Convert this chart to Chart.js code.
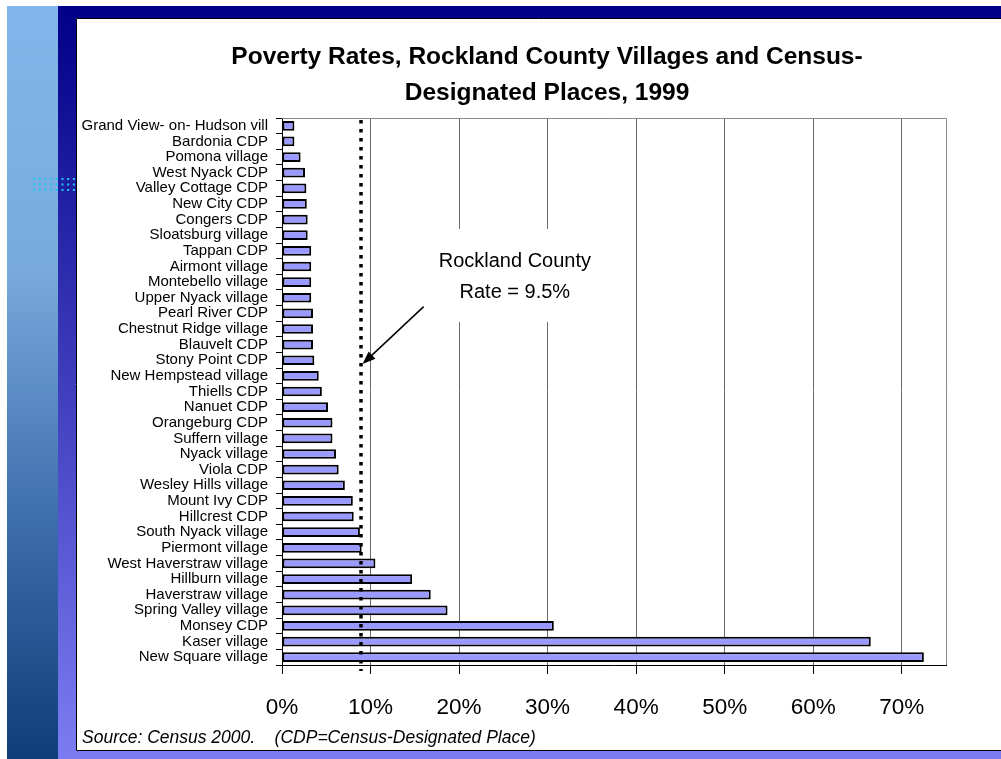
<!DOCTYPE html>
<html>
<head>
<meta charset="utf-8">
<script src="https://cdn.jsdelivr.net/npm/chart.js@4.4.1/dist/chart.umd.min.js"></script>
<style>
  html, body { margin: 0; padding: 0; background: #fff; }
  canvas { display: block; }
</style>
</head>
<body>
<canvas id="povertyCanvas" width="1001" height="759"></canvas>
<script>

// places, top to bottom as in the chart
const places = [
    "Grand View- on- Hudson vill", "Bardonia CDP", "Pomona village", "West Nyack CDP",
    "Valley Cottage CDP", "New City CDP", "Congers CDP", "Sloatsburg village",
    "Tappan CDP", "Airmont village", "Montebello village", "Upper Nyack village",
    "Pearl River CDP", "Chestnut Ridge village", "Blauvelt CDP", "Stony Point CDP",
    "New Hempstead village", "Thiells CDP", "Nanuet CDP", "Orangeburg CDP",
    "Suffern village", "Nyack village", "Viola CDP", "Wesley Hills village",
    "Mount Ivy CDP", "Hillcrest CDP", "South Nyack village", "Piermont village",
    "West Haverstraw village", "Hillburn village", "Haverstraw village", "Spring Valley village",
    "Monsey CDP", "Kaser village", "New Square village"
];

// poverty rate in percent
const povertyRates = [
    1.4, 1.4, 2.1, 2.6,
    2.75, 2.8, 2.9, 2.9,
    3.3, 3.3, 3.3, 3.3,
    3.5, 3.5, 3.5, 3.65,
    4.15, 4.5, 5.2, 5.7,
    5.7, 6.1, 6.4, 7.1,
    8.0, 8.1, 8.8, 9.0,
    10.55, 14.7, 16.8, 18.7,
    30.7, 66.5, 72.5
];

const xTickValues = [0, 10, 20, 30, 40, 50, 60, 70];
const countyLine = 8.9; // where the dotted county line sits in the picture
const countyLabel = ["Rockland County", "Rate = 9.5%"];

const titleLines = ["Poverty Rates, Rockland County Villages and Census-", "Designated Places, 1999"];
const sourceNote = "Source: Census 2000.    (CDP=Census-Designated Place)";

const FONT = '"Liberation Sans", Arial, sans-serif';

// slide frame behind the chart
const slidePlugin = {
    id: 'slide',
    beforeDraw(chart) {
        const ctx = chart.ctx;
        const W = chart.width, H = chart.height;
        ctx.save();
        ctx.fillStyle = '#fff';
        ctx.fillRect(0, 0, W, H);

        let g = ctx.createLinearGradient(0, 6, 0, H);
        g.addColorStop(0, '#82b6ea');
        g.addColorStop(0.35, '#78aadc');
        g.addColorStop(0.7, '#3a6aaa');
        g.addColorStop(1, '#0f3d78');
        ctx.fillStyle = g;
        ctx.fillRect(7, 6, 51, H - 6);

        g = ctx.createLinearGradient(0, 6, 0, H);
        g.addColorStop(0, '#000088');
        g.addColorStop(1, '#7c7cf2');
        ctx.fillStyle = g;
        ctx.fillRect(58, 6, W - 58, H - 6);

        // little dot pattern
        ctx.fillStyle = '#22c8f0';
        for (let r = 0; r < 3; r++) {
            for (let c = 0; c < 8; c++) {
                ctx.fillRect(33 + c * 5.7, 178 + r * 5.5, 2, 2);
            }
        }

        ctx.fillStyle = '#fff';
        ctx.fillRect(76, 18, W - 76, 732);
        ctx.strokeStyle = '#000';
        ctx.lineWidth = 1;
        ctx.beginPath();
        ctx.moveTo(W, 18.5);
        ctx.lineTo(76.5, 18.5);
        ctx.lineTo(76.5, 750.5);
        ctx.lineTo(W, 750.5);
        ctx.stroke();

        // title
        ctx.fillStyle = '#000';
        ctx.font = 'bold 24.5px ' + FONT;
        ctx.textAlign = 'center';
        ctx.textBaseline = 'middle';
        ctx.fillText(titleLines[0], 547, 57);
        ctx.fillText(titleLines[1], 547, 93);
        ctx.restore();
    }
};

const overlayPlugin = {
    id: 'overlay',
    beforeDatasetsDraw(chart) {
        const ctx = chart.ctx, a = chart.chartArea;
        const x = chart.scales.x, y = chart.scales.y;
        ctx.save();
        // box behind the county label hides the grid
        const bx0 = x.getPixelForValue(17), bx1 = x.getPixelForValue(36);
        const by0 = y.getPixelForValue(6.6), by1 = y.getPixelForValue(12.55);
        ctx.fillStyle = '#fff';
        ctx.fillRect(bx0, by0, bx1 - bx0, by1 - by0);
        // plot border top/right
        ctx.strokeStyle = '#888';
        ctx.lineWidth = 1;
        ctx.beginPath();
        ctx.moveTo(a.left, a.top + 0.5);
        ctx.lineTo(a.right + 0.5, a.top + 0.5);
        ctx.lineTo(a.right + 0.5, a.bottom);
        ctx.stroke();
        ctx.restore();
    },
    afterDatasetsDraw(chart) {
        const ctx = chart.ctx, a = chart.chartArea;
        const x = chart.scales.x, y = chart.scales.y;
        ctx.save();
        // dotted county line
        const lx = Math.round(x.getPixelForValue(countyLine));
        ctx.strokeStyle = '#000';
        ctx.lineWidth = 3.5;
        ctx.setLineDash([3.5, 5.5]);
        ctx.beginPath();
        ctx.moveTo(lx, a.top + 2);
        ctx.lineTo(lx, a.bottom + 6);
        ctx.stroke();
        ctx.setLineDash([]);

        // label
        ctx.fillStyle = '#000';
        ctx.font = '20px ' + FONT;
        ctx.textAlign = 'center';
        ctx.textBaseline = 'middle';
        const tx = x.getPixelForValue(26.3);
        ctx.fillText(countyLabel[0], tx, y.getPixelForValue(8.66));
        ctx.fillText(countyLabel[1], tx, y.getPixelForValue(10.66));

        // arrow
        const x0 = x.getPixelForValue(16.0), y0 = y.getPixelForValue(11.57);
        const x1 = x.getPixelForValue(9.1), y1 = y.getPixelForValue(15.24);
        const ang = Math.atan2(y1 - y0, x1 - x0);
        ctx.lineWidth = 1.5;
        ctx.beginPath();
        ctx.moveTo(x0, y0);
        ctx.lineTo(x1 - 6 * Math.cos(ang), y1 - 6 * Math.sin(ang));
        ctx.stroke();
        ctx.beginPath();
        ctx.moveTo(x1, y1);
        ctx.lineTo(x1 - 13 * Math.cos(ang) + 5 * Math.sin(ang), y1 - 13 * Math.sin(ang) - 5 * Math.cos(ang));
        ctx.lineTo(x1 - 13 * Math.cos(ang) - 5 * Math.sin(ang), y1 - 13 * Math.sin(ang) + 5 * Math.cos(ang));
        ctx.closePath();
        ctx.fill();
        ctx.restore();
    },
    afterDraw(chart) {
        const ctx = chart.ctx;
        ctx.save();
        ctx.fillStyle = '#000';
        ctx.font = 'italic 17.5px ' + FONT;
        ctx.textAlign = 'left';
        ctx.textBaseline = 'alphabetic';
        ctx.fillText(sourceNote, 82, 743);
        ctx.restore();
    }
};

const povertyChart = new Chart(document.getElementById('povertyCanvas'), {
    type: 'bar',
    data: {
        labels: places,
        datasets: [{
            data: povertyRates,
            backgroundColor: '#9999ff',
            borderColor: '#000',
            borderWidth: 2,
            borderSkipped: false,
            categoryPercentage: 1,
            barPercentage: 0.62
        }]
    },
    options: {
        indexAxis: 'y',
        responsive: false,
        animation: false,
        layout: { padding: { left: 78, right: 55, top: 118, bottom: 0 } },
        plugins: {
            legend: { display: false },
            tooltip: { enabled: false },
            title: { display: false }
        },
        scales: {
            x: {
                min: 0,
                max: 75,
                afterBuildTicks(scale) {
                    scale.ticks = xTickValues.map(v => ({ value: v }));
                },
                afterFit(scale) { scale.height = 94; },
                ticks: {
                    stepSize: 10,
                    includeBounds: false,
                    color: '#000',
                    padding: 20,
                    font: { family: FONT, size: 22.5 },
                    callback: v => v + '%'
                },
                grid: { color: '#6a6a6a', tickLength: 9, tickColor: '#000' },
                border: { color: '#000', width: 1 }
            },
            y: {
                afterFit(scale) { scale.width = 204; },
                ticks: {
                    autoSkip: false,
                    color: '#000',
                    padding: 8,
                    font: { family: FONT, size: 15 }
                },
                grid: { drawOnChartArea: false, tickLength: 6, tickColor: '#000', offset: true },
                border: { color: '#000', width: 1 }
            }
        }
    },
    plugins: [slidePlugin, overlayPlugin]
});

</script>
</body>
</html>
